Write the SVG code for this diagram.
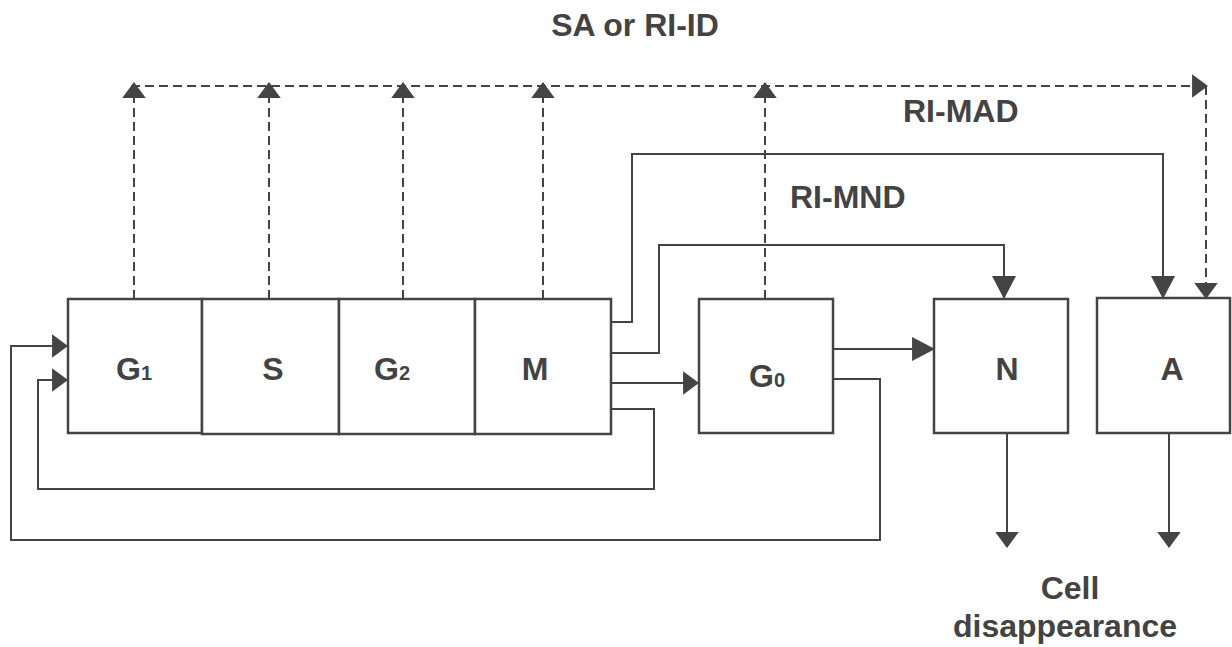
<svg xmlns="http://www.w3.org/2000/svg" width="1232" height="647" viewBox="0 0 1232 647">
<style>
.box{fill:#fff;stroke:#444;stroke-width:2.5}
.ln{fill:none;stroke:#444;stroke-width:2}
.dash{fill:none;stroke:#444;stroke-width:2;stroke-dasharray:9 5}
.t{font-family:"Liberation Sans",Arial,sans-serif;font-weight:bold;font-size:32px;fill:#434343}
.sub{font-size:20px}
</style>
<defs>
<marker id="arr" markerUnits="userSpaceOnUse" markerWidth="16" markerHeight="24" viewBox="0 0 15 22" refX="14" refY="11" orient="auto"><path d="M0,0 L15,11 L0,22 z" fill="#444"/></marker>
<marker id="arrL" markerUnits="userSpaceOnUse" markerWidth="24" markerHeight="24" viewBox="0 0 22 23" refX="21" refY="11.5" orient="auto"><path d="M0,0 L22,11.5 L0,23 z" fill="#444"/></marker>
</defs>
<rect width="1232" height="647" fill="#fff"/>
<g id="connectors">
<path class="dash" d="M131,86 H1207" marker-end="url(#arr)"/>
<path class="dash" d="M134,299 V83" marker-end="url(#arr)"/>
<path class="dash" d="M269,299 V83" marker-end="url(#arr)"/>
<path class="dash" d="M403,299 V83" marker-end="url(#arr)"/>
<path class="dash" d="M543,299 V83" marker-end="url(#arr)"/>
<path class="dash" d="M765,299 V83" marker-end="url(#arr)"/>
<path class="dash" d="M1206,86 V298" marker-end="url(#arr)"/>
<path class="ln" d="M612,322 H632 V154 H1163 V298" marker-end="url(#arrL)"/>
<path class="ln" d="M612,353 H659 V245 H1004 V298" marker-end="url(#arrL)"/>
<path class="ln" d="M612,383 H698" marker-end="url(#arr)"/>
<path class="ln" d="M612,409 H654 V489 H38 V380 H67" marker-end="url(#arr)"/>
<path class="ln" d="M833,349 H934" marker-end="url(#arrL)"/>
<path class="ln" d="M833,379 H880 V540 H11 V346 H67" marker-end="url(#arr)"/>
<path class="ln" d="M1007,434 V547" marker-end="url(#arr)"/>
<path class="ln" d="M1169,434 V547" marker-end="url(#arr)"/>
</g>
<g id="G1"><rect class="box" x="68" y="299" width="134" height="134"/><text class="t" x="116" y="380">G<tspan class="sub">1</tspan></text></g>
<g id="S"><rect class="box" x="202" y="299" width="137" height="135"/><text class="t" x="273" y="380" text-anchor="middle">S</text></g>
<g id="G2"><rect class="box" x="339" y="299" width="136" height="135"/><text class="t" x="374" y="380">G<tspan class="sub">2</tspan></text></g>
<g id="M"><rect class="box" x="475" y="299" width="136" height="135"/><text class="t" x="535" y="380" text-anchor="middle">M</text></g>
<g id="G0"><rect class="box" x="699" y="299" width="134" height="134"/><text class="t" x="749" y="387">G<tspan class="sub">0</tspan></text></g>
<g id="N"><rect class="box" x="934" y="299" width="134" height="134"/><text class="t" x="1007" y="380" text-anchor="middle">N</text></g>
<g id="A"><rect class="box" x="1097" y="298" width="133" height="135"/><text class="t" x="1172" y="380" text-anchor="middle">A</text></g>
<g id="labels">
<text class="t" x="635" y="36" text-anchor="middle">SA or RI-ID</text>
<text class="t" x="903" y="122">RI-MAD</text>
<text class="t" x="790" y="208">RI-MND</text>
<text class="t" x="1070" y="599" text-anchor="middle">Cell</text>
<text class="t" x="1065" y="637" text-anchor="middle">disappearance</text>
</g>
</svg>
